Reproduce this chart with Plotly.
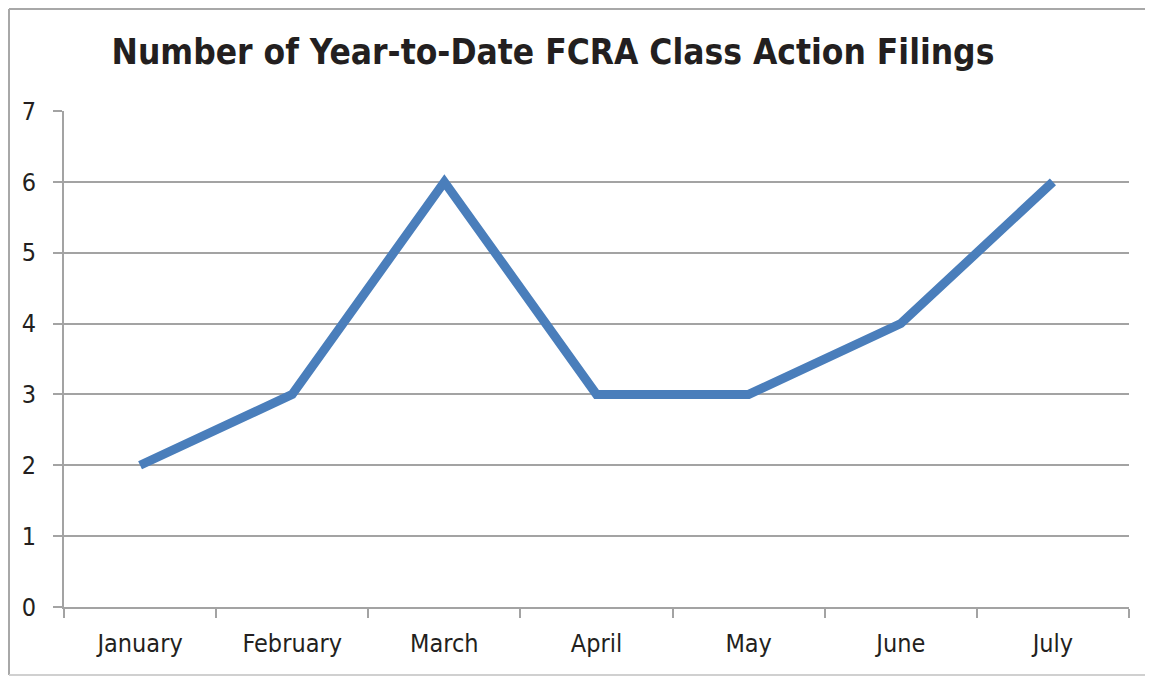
import plotly.graph_objects as go

months = ["January", "February", "March", "April", "May", "June", "July"]
filings = [2, 3, 6, 3, 3, 4, 6]
y_ticks = [0, 1, 2, 3, 4, 5, 6, 7]

# page is rendered with an 8px body margin
OFF = 8
W, H = 1153 - OFF, 677 - OFF
L = 64 - OFF
T = 111 - OFF
R = W - (1129 - OFF)
B = H - (607 - OFF)
pw, ph = W - L - R, H - T - B

def px_x(p):
    return (p - OFF - L) / pw

def px_y(p):
    return (H - B - (p - OFF)) / ph

FONT = "Liberation Sans Narrow, DejaVu Sans Condensed, Roboto, sans-serif"
GRID = "#a3a3a3"
FRAME = "#a8a8a8"

fig = go.Figure()
fig.add_trace(go.Scatter(
    x=months, y=filings, mode="lines",
    line=dict(color="#4a7ebb", width=9),
    hoverinfo="x+y",
))

xl, xr = px_x(OFF + 1), px_x(1153)
yb, yt = px_y(675), px_y(OFF + 1)
frame = [
    dict(type="line", xref="paper", yref="paper", x0=xl, x1=xl, y0=yb, y1=yt,
         line=dict(color=FRAME, width=2), layer="below"),
    dict(type="line", xref="paper", yref="paper", x0=xl, x1=xr, y0=yt, y1=yt,
         line=dict(color=FRAME, width=2), layer="below"),
    dict(type="line", xref="paper", yref="paper", x0=xl, x1=xr, y0=yb, y1=yb,
         line=dict(color="#d0d0d0", width=2), layer="below"),
]

fig.update_layout(
    width=W, height=H,
    margin=dict(l=L, r=R, t=T, b=B),
    paper_bgcolor="white", plot_bgcolor="white",
    showlegend=False,
    font=dict(family=FONT, size=25, color="#231f20"),
    title=dict(
        text="<b>Number of Year-to-Date FCRA Class Action Filings</b>",
        x=(553 - OFF) / W, xanchor="center", y=1 - (52 - OFF) / H, yanchor="middle",
        font=dict(family=FONT, size=35, color="#231f20"),
    ),
    xaxis=dict(
        type="category", tickson="boundaries",
        showgrid=False, showline=True, linecolor=GRID, linewidth=2,
        ticks="outside", ticklen=9, tickcolor=GRID, tickwidth=2,
        ticklabelstandoff=13,
        tickfont=dict(family=FONT, size=25, color="#231f20"),
        range=[-0.5, len(months) - 0.5],
    ),
    yaxis=dict(
        range=[0, 7], tickvals=y_ticks,
        showgrid=True, gridcolor=GRID, gridwidth=2,
        showline=True, linecolor=GRID, linewidth=2,
        ticks="outside", ticklen=9, tickcolor=GRID, tickwidth=2,
        ticklabelstandoff=12, zeroline=False,
        tickfont=dict(family=FONT, size=25, color="#231f20"),
    ),
    shapes=frame,
)

fig.write_html("out.html")
